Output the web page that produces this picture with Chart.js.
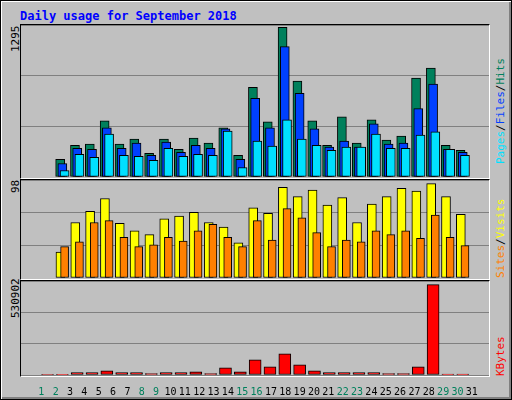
<!DOCTYPE html>
<html>
<head>
<meta charset="utf-8">
<script src="https://cdn.jsdelivr.net/npm/chart.js@4/dist/chart.umd.min.js"></script>
<style>
    body { margin: 0; background: #c0c0c0; }
    #frame { position: absolute; left: 0; top: 0; width: 510px; height: 398px; border: 1px solid #000; background: #c0c0c0;
             box-shadow: inset 1px 1px 0 #fff, inset -2px -2px 0 #808080; }
    .txt { position: absolute; font-family: "DejaVu Sans Mono", monospace; font-size: 11px; white-space: nowrap; }
    .rot { transform-origin: left top; transform: rotate(-90deg); }
    .panel { position: absolute; left: 20px; width: 470px; border-top: 1px solid #000; border-left: 1px solid #000;
             border-right: 1px solid #fff; border-bottom: 1px solid #fff; box-sizing: border-box; }
    canvas { position: absolute; }
</style>
</head>
<body>
<div id="frame"></div>
<div class="txt" style="left:20px;top:9px;font-size:12px;font-weight:bold;color:#0000ff">Daily usage for September 2018</div>

<div class="panel" style="top:24px;height:155px"></div>
<div class="panel" style="top:179px;height:101px"></div>
<div class="panel" style="top:280px;height:97px"></div>

<div class="txt rot" style="left:9px;top:52px">1295</div>
<div class="txt rot" style="left:9px;top:193px">98</div>
<div class="txt rot" style="left:9px;top:318px">530902</div>

<div class="txt rot" style="left:494px;top:164px"><span style="color:#00e0ff">Pages</span>/<span style="color:#0040ff">Files</span>/<span style="color:#00805c">Hits</span></div>
<div class="txt rot" style="left:494px;top:278px"><span style="color:#ff8000">Sites</span>/<span style="color:#ffff00">Visits</span></div>
<div class="txt rot" style="left:494px;top:376px"><span style="color:#ff0000">KBytes</span></div>

<canvas id="usageChart" style="left:21px;top:25px" width="468" height="152"></canvas>
<canvas id="visitsChart" style="left:21px;top:180px" width="468" height="98"></canvas>
<canvas id="kbytesChart" style="left:21px;top:281px" width="468" height="119"></canvas>

<script>
/* -------------------------------------------------------------------------- */
/*  DONNÉES                                                                   */
/* -------------------------------------------------------------------------- */

const DAY_LABELS = ['1','2','3','4','5','6','7','8','9','10','11','12','13','14','15','16',
                    '17','18','19','20','21','22','23','24','25','26','27','28','29','30','31'];
const WEEKEND_DAYS = ['1','2','8','9','15','16','22','23','29','30'];

const HITS   = [0,152,275,284,486,284,328,205,328,240,337,293,425,188,776,478,1295,829,486,275,521,293,495,319,354,856,943,275,231];
const FILES  = [0,117,249,240,425,249,293,188,302,214,275,249,416,152,680,425,1128,724,416,258,311,258,460,284,293,592,803,240,214];
const PAGES  = [0,56,196,170,372,188,179,144,249,179,196,188,398,82,311,267,495,328,275,231,258,258,372,249,249,363,390,240,188];
const VISITS = [0,28,60,72,86,59,51,47,64,67,71,60,55,38,76,70,98,88,95,79,87,60,80,88,97,94,102,88,69];
const SITES  = [0,34,39,60,62,44,34,36,44,40,51,58,44,34,62,41,75,65,49,34,41,39,51,47,51,43,68,44,35];
const KBYTES = [500,1500,13500,13500,25000,13500,13500,7700,13500,13500,19000,7700,42600,19000,89000,48000,
                124000,60000,25000,13500,13500,13500,13500,7700,7700,48000,530902,5000,5000];

/* -------------------------------------------------------------------------- */
/*  GRAPHIQUES                                                                */
/* -------------------------------------------------------------------------- */

const X_MIN = 0.11, X_MAX = 31.67;

function points(values) {
    return values.map((v, i) => ({ x: i + 1, y: v }));
}

// axe x caché, décalé pour reproduire le chevauchement des barres
function shiftedAxis(shift) {
    return { type: 'linear', display: false, min: X_MIN - shift, max: X_MAX - shift, offset: false };
}

function barSet(values, color, axis, width, order) {
    return {
        data: points(values),
        backgroundColor: color,
        borderColor: '#000',
        borderWidth: 1,
        borderSkipped: false,
        barThickness: width,
        xAxisID: axis,
        grouped: false,
        order: order   // ordre élevé = dessiné en premier (derrière)
    };
}

function yAxis(max) {
    return {
        min: 0, max: max, display: true,
        ticks: { display: false, stepSize: max / 3 },
        grid: { color: '#808080', drawTicks: false, lineWidth: 1 },
        border: { display: false }
    };
}

function createBarChart(canvasId, datasets, axes, yMax) {
    return new Chart(document.getElementById(canvasId), {
        type: 'bar',
        data: { datasets },
        options: {
            responsive: false,
            animation: false,
            layout: { padding: 0 },
            plugins: { legend: { display: false }, tooltip: { enabled: false } },
            scales: Object.assign({}, axes, { y: yAxis(yMax) })
        }
    });
}

Chart.defaults.font.family = '"DejaVu Sans Mono", monospace';

createBarChart('usageChart', [
    barSet(HITS, '#00805c', 'xa', 9, 3),
    barSet(FILES, '#0040ff', 'xb', 9, 2),
    barSet(PAGES, '#00e0ff', 'xc', 9, 1)
], { xa: shiftedAxis(0.75), xb: shiftedAxis(0.9), xc: shiftedAxis(1.05) }, 1315);

createBarChart('visitsChart', [
    barSet(VISITS, '#ffff00', 'xa', 9, 2),
    barSet(SITES, '#ff8000', 'xb', 8, 1)
], { xa: shiftedAxis(0.77), xb: shiftedAxis(1.05) }, 106);

createBarChart('kbytesChart', [
    barSet(KBYTES, '#ff0000', 'xa', 12, 1)
], {
    xa: shiftedAxis(0.9),
    x: {
        type: 'linear', position: 'bottom', min: X_MIN, max: X_MAX,
        afterFit(scale) { scale.height = 25; },
        afterBuildTicks(scale) { scale.ticks = DAY_LABELS.map(l => ({ value: Number(l) })); },
        grid: { display: false }, border: { display: false },
        ticks: {
            autoSkip: false, maxRotation: 0, padding: 3,
            font: { size: 10 },
            color: ctx => WEEKEND_DAYS.includes(DAY_LABELS[ctx.index]) ? '#00805c' : '#000',
            callback: (v, i) => DAY_LABELS[i]
        }
    }
}, 552000);
</script>
</body>
</html>
